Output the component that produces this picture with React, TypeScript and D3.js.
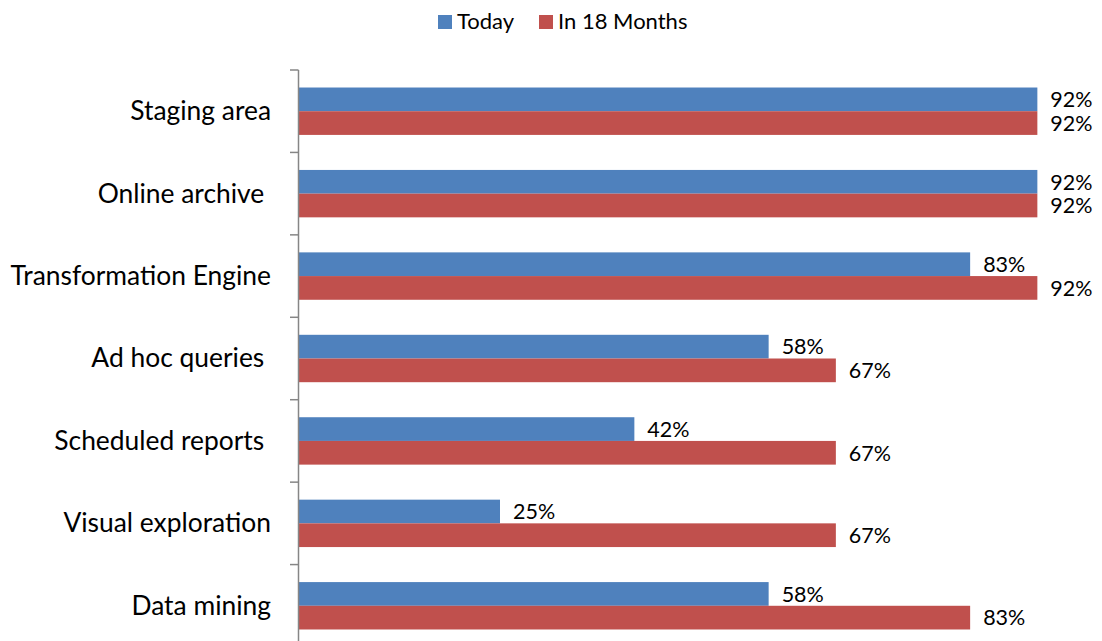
import React from "react";
import * as d3 from "d3";

const categories = [
  "Staging area",
  "Online archive ",
  "Transformation Engine",
  "Ad hoc queries ",
  "Scheduled reports ",
  "Visual exploration",
  "Data mining",
];
const seriesNames = ["Today", "In 18 Months"];
const todayValues = [0.9167, 0.9167, 0.8333, 0.5833, 0.4167, 0.25, 0.5833];
const in18Values = [0.9167, 0.9167, 0.9167, 0.6667, 0.6667, 0.6667, 0.8333];
const colors = ["#4F81BD", "#C0504D"];

const W = 1102;
const H = 641;
const FONT = "Lato, 'Open Sans', sans-serif";

export default function App() {
  const x = d3.scaleLinear().domain([0, 1]).range([298.5, 298.5 + 806]);
  const y = d3
    .scaleBand<string>()
    .domain(categories)
    .range([70, 647])
    .paddingInner(0.425)
    .paddingOuter(0.2125);
  const inner = d3
    .scaleBand<string>()
    .domain(seriesNames)
    .range([0, y.bandwidth()]);
  const series = [todayValues, in18Values];
  const step = y.step();
  const tickYs = d3.range(categories.length + 1).map((k) => 70 + k * step);
  const fmt = d3.format(".0%");

  return (
    <svg
      width={W}
      height={H}
      style={{ position: "absolute", left: 0, top: 0, background: "#fff" }}
      fontFamily={FONT}
    >
      {/* legend */}
      <g>
        <rect x={438} y={15} width={14} height={14} fill={colors[0]} />
        <text x={457} y={29} fontSize={22} fill="#000">
          {seriesNames[0]}
        </text>
        <rect x={539} y={15} width={14} height={14} fill={colors[1]} />
        <text x={558} y={29} fontSize={22} fill="#000">
          {seriesNames[1]}
        </text>
      </g>
      {/* bars */}
      {categories.map((c, i) => (
        <g key={c} transform={`translate(0,${y(c)})`}>
          {series.map((vals, s) => {
            const yy = inner(seriesNames[s])!;
            const h = inner.bandwidth();
            return (
              <g key={s}>
                <rect
                  x={x(0)}
                  y={yy}
                  width={x(vals[i]) - x(0)}
                  height={h}
                  fill={colors[s]}
                />
                <text
                  x={x(vals[i]) + 13}
                  y={yy + h / 2}
                  dy="0.36em"
                  fontSize={21.5}
                  fill="#000"
                >
                  {fmt(vals[i])}
                </text>
              </g>
            );
          })}
          <text
            x={271}
            y={y.bandwidth() / 2}
            dy="0.34em"
            textAnchor="end"
            fontSize={26.4}
            fill="#000"
            style={{ whiteSpace: "pre" }}
          >
            {c}
          </text>
        </g>
      ))}
      {/* axis */}
      <line x1={298.5} x2={298.5} y1={70} y2={647} stroke="#868686" strokeWidth={1.5} />
      {tickYs.map((t, k) => (
        <line key={k} x1={290} x2={298.5} y1={t} y2={t} stroke="#868686" strokeWidth={1.5} />
      ))}
    </svg>
  );
}
